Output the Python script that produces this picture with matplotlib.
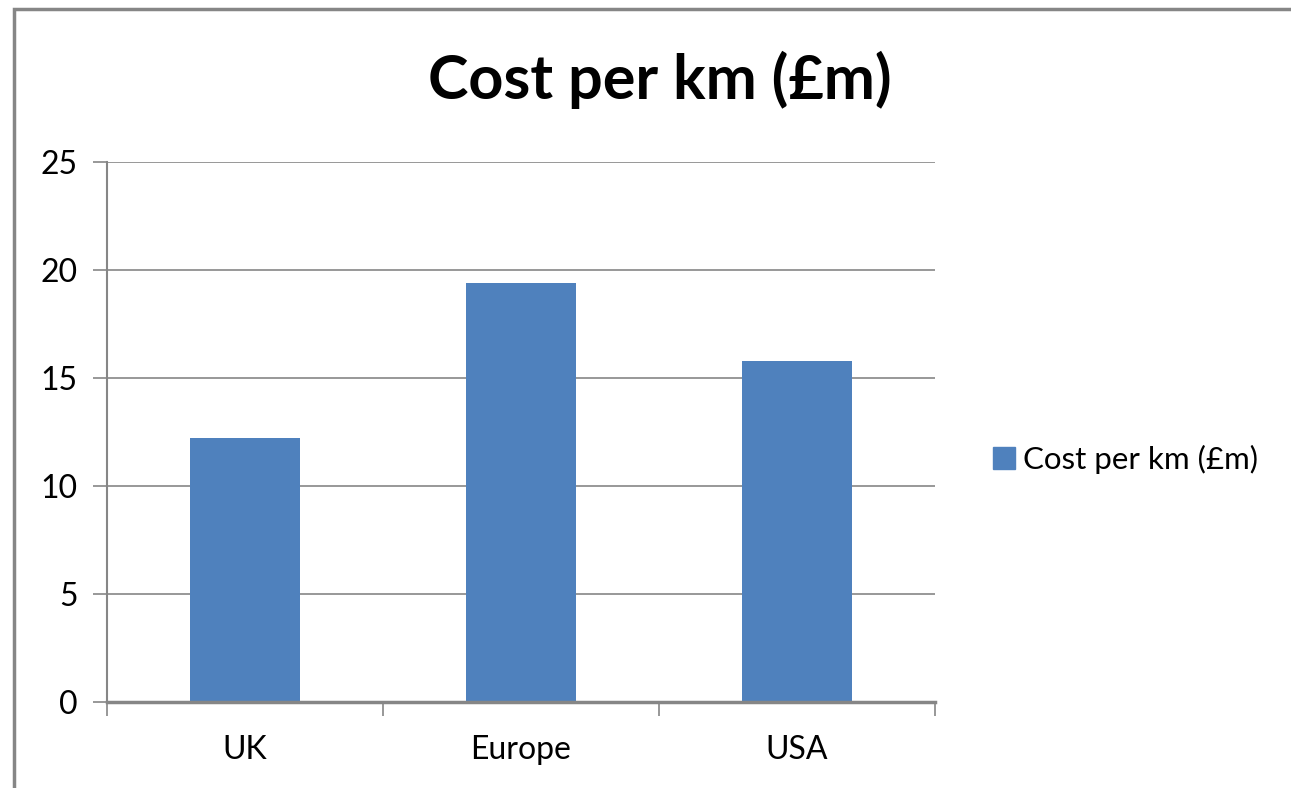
import matplotlib.pyplot as plt
from matplotlib.patches import Rectangle, Patch

categories = ['UK', 'Europe', 'USA']
cost_per_km = [12.2, 19.4, 15.8]
series_name = 'Cost per km (£m)'

plt.rcParams['font.family'] = ['Lato', 'DejaVu Sans']

W, H = 1291, 788
fig = plt.figure(figsize=(W / 100, H / 100), dpi=100)
ax = fig.add_axes([107 / W, 1 - 702 / H, (935 - 107) / W, (702 - 162) / H])

x = list(range(len(categories)))
ax.bar(x, cost_per_km, width=0.4, color='#4F81BD', zorder=3)

ax.set_xlim(-0.5, len(categories) - 0.5)
ax.set_ylim(0, 25)
ax.set_yticks([0, 5, 10, 15, 20, 25])
ax.yaxis.grid(True, color='#868686', linewidth=1.2, zorder=0)

# category labels centred, tick marks on boundaries
ax.set_xticks(x)
ax.set_xticklabels(categories, fontsize=23)
ax.tick_params(axis='x', length=0, pad=24)
ax.set_xticks([-0.5, 0.5, 1.5, 2.5], minor=True)
ax.tick_params(axis='x', which='minor', length=10, width=1.2, color='#868686', direction='out')
ax.tick_params(axis='y', length=10, width=1.2, color='#868686', labelsize=23, pad=11)

for s in ['top', 'right']:
    ax.spines[s].set_visible(False)
for s in ['left', 'bottom']:
    ax.spines[s].set_color('#868686')
    ax.spines[s].set_linewidth(1.5)
ax.spines['bottom'].set_linewidth(2.5)
ax.spines['bottom'].set_zorder(4)

fig.text(660 / W, 1 - 80 / H, series_name, ha='center', va='center',
         fontsize=44, fontweight='bold')

fig.legend(handles=[Patch(color='#4F81BD', label=series_name)],
           loc='center left', bbox_to_anchor=(965 / W, 1 - 459 / H),
           frameon=False, fontsize=22.5, handlelength=0.7, handleheight=0.7,
           handletextpad=0.25)

# chart border (partially cropped in the original)
fig.patches.append(Rectangle((13.5 / W, -0.1), 1.2, 1 - 9 / H + 0.1,
                             transform=fig.transFigure, fill=False,
                             edgecolor='#868686', linewidth=2.5))

fig.savefig('out.png', dpi=100)
